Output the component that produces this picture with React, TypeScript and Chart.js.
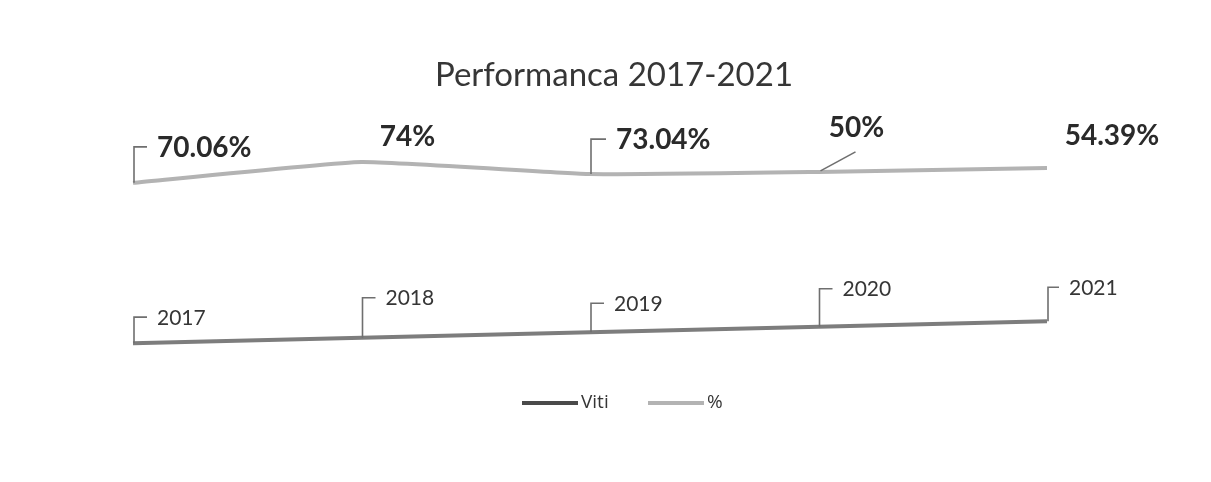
import React, { useEffect, useRef } from 'react';
import { Chart, registerables } from 'chart.js';

Chart.register(...registerables);

// ---- data ----
const years = ['2017', '2018', '2019', '2020', '2021'];
const vitiValues = [2017, 2018, 2019, 2020, 2021];
const vitiLabels = ['2017', '2018', '2019', '2020', '2021'];
// plotted height of the "%" line (hidden axis, 0-100)
const percentPlotted = [74.5, 82.1, 77.7, 78.5, 79.9];
const percentLabels = ['70.06%', '74%', '73.04%', '50%', '54.39%'];
const seriesNames = ['Viti', '%'];
const chartTitle = 'Performanca 2017-2021';

// ---- styles ----
const FONT = 'Lato, "Open Sans", sans-serif';
const VITI_COLOR = '#7d7d7d';
const PCT_COLOR = '#b3b3b3';
const LEADER_COLOR = '#6f6f6f';
const TEXT_COLOR = '#363636';
const BOLD_COLOR = '#2a2a2a';

type LabelStyle = { leader: 'bracket' | 'diag' | 'none'; dx: number; dy: number; align: 'left' | 'center' };
const vitiLabelStyle: LabelStyle[] = [
  { leader: 'bracket', dx: 24, dy: -25, align: 'left' },
  { leader: 'bracket', dx: 24, dy: -39, align: 'left' },
  { leader: 'bracket', dx: 24, dy: -28, align: 'left' },
  { leader: 'bracket', dx: 24, dy: -37, align: 'left' },
  { leader: 'bracket', dx: 22, dy: -33, align: 'left' },
];
const pctLabelStyle: LabelStyle[] = [
  { leader: 'bracket', dx: 24, dy: -35, align: 'left' },
  { leader: 'none', dx: 46, dy: -25, align: 'center' },
  { leader: 'bracket', dx: 26, dy: -34, align: 'left' },
  { leader: 'diag', dx: 38, dy: -44, align: 'center' },
  { leader: 'none', dx: 65, dy: -32, align: 'center' },
];

const labelPlugin = {
  id: 'customLabels',
  afterDatasetsDraw(chart: any) {
    const ctx = chart.ctx as CanvasRenderingContext2D;
    const sets = [
      { idx: 0, texts: vitiLabels, styles: vitiLabelStyle, font: `400 21px ${FONT}`, color: TEXT_COLOR },
      { idx: 1, texts: percentLabels, styles: pctLabelStyle, font: `700 28px ${FONT}`, color: BOLD_COLOR },
    ];
    ctx.save();
    for (const s of sets) {
      const meta = chart.getDatasetMeta(s.idx);
      meta.data.forEach((pt: any, i: number) => {
        const st = s.styles[i];
        const x = pt.x;
        const y = pt.y;
        ctx.strokeStyle = LEADER_COLOR;
        ctx.lineWidth = 1.6;
        if (st.leader === 'bracket') {
          ctx.beginPath();
          ctx.moveTo(x + 1, y);
          ctx.lineTo(x + 1, y + st.dy - 1);
          ctx.lineTo(x + st.dx - 10, y + st.dy - 1);
          ctx.stroke();
        } else if (st.leader === 'diag') {
          ctx.beginPath();
          ctx.moveTo(x + 2, y - 1);
          ctx.lineTo(x + st.dx - 1, y + st.dy + 24);
          ctx.stroke();
        }
        ctx.fillStyle = s.color;
        ctx.font = s.font;
        ctx.textAlign = st.align;
        ctx.textBaseline = 'middle';
        ctx.fillText(s.texts[i], x + st.dx, y + st.dy);
      });
    }
    ctx.restore();
  },
  afterDraw(chart: any) {
    const ctx = chart.ctx as CanvasRenderingContext2D;
    ctx.save();
    // title
    ctx.fillStyle = TEXT_COLOR;
    ctx.font = `400 33px ${FONT}`;
    ctx.textAlign = 'center';
    ctx.textBaseline = 'middle';
    ctx.fillText(chartTitle, 614 - 8, 67);
    // legend
    const colors = ['#4a4a4a', PCT_COLOR];
    const boxes = [514, 640];
    ctx.font = `400 19px "Open Sans", sans-serif`;
    ctx.textAlign = 'left';
    seriesNames.forEach((name, i) => {
      ctx.strokeStyle = colors[i];
      ctx.lineWidth = 4;
      ctx.beginPath();
      ctx.moveTo(boxes[i], 395);
      ctx.lineTo(boxes[i] + 56, 395);
      ctx.stroke();
      ctx.fillStyle = TEXT_COLOR;
      ctx.fillText(name, boxes[i] + 59, 395);
    });
    ctx.restore();
  },
};

export default function App() {
  const ref = useRef<HTMLCanvasElement | null>(null);
  useEffect(() => {
    if (!ref.current) return;
    const chart = new Chart(ref.current, {
      type: 'line',
      data: {
        labels: years,
        datasets: [
          {
            label: seriesNames[0],
            data: vitiValues,
            borderColor: VITI_COLOR,
            backgroundColor: VITI_COLOR,
            borderWidth: 4,
            pointRadius: 0,
            tension: 0,
            yAxisID: 'yViti',
          },
          {
            label: seriesNames[1],
            data: percentPlotted,
            borderColor: PCT_COLOR,
            backgroundColor: PCT_COLOR,
            borderWidth: 4,
            pointRadius: 0,
            tension: 0.12,
            yAxisID: 'yPct',
          },
        ],
      },
      options: {
        responsive: false,
        animation: false,
        layout: { padding: { left: 125, right: 156, top: 105, bottom: 87 } },
        plugins: {
          legend: { display: false },
          title: { display: false },
          tooltip: { enabled: false },
        },
        scales: {
          x: { display: false, offset: false },
          yViti: { display: false, min: 2009, max: 2059 },
          yPct: { display: false, min: 0, max: 100 },
        },
      },
      plugins: [labelPlugin],
    });
    return () => chart.destroy();
  }, []);
  return (
    <div style={{ width: 1195, height: 466, background: '#fff' }}>
      <canvas ref={ref} width={1195} height={466} style={{ display: 'block' }} />
    </div>
  );
}
